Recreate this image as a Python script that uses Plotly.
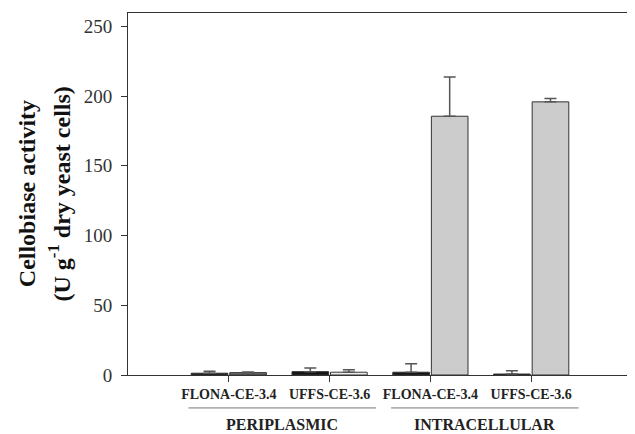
import plotly.graph_objects as go

groups = ["FLONA-CE-3.4", "UFFS-CE-3.6", "FLONA-CE-3.4 ", "UFFS-CE-3.6 "]
tick_labels = ["FLONA-CE-3.4", "UFFS-CE-3.6", "FLONA-CE-3.4", "UFFS-CE-3.6"]
fractions = ["PERIPLASMIC", "INTRACELLULAR"]

series_a = [1.3, 2.4, 2.0, 0.7]
series_a_err = [1.3, 2.7, 6.0, 2.3]
series_a_colors = ["#141414", "#141414", "#141414", "#141414"]

series_b = [1.7, 2.0, 185.5, 195.8]
series_b_err = [0.4, 1.8, 28.2, 2.4]
series_b_colors = ["#6a6a6a", "#ececec", "#cccccc", "#cccccc"]

x = list(range(len(groups)))

fig = go.Figure()
fig.add_trace(go.Bar(
    x=x, y=series_a,
    marker=dict(color=series_a_colors, line=dict(color="#333333", width=1)),
    error_y=dict(type="data", array=series_a_err, symmetric=False,
                 arrayminus=[0]*4, color="#555555", thickness=1.5, width=6),
    showlegend=False,
))
fig.add_trace(go.Bar(
    x=x, y=series_b,
    marker=dict(color=series_b_colors, line=dict(color="#333333", width=1)),
    error_y=dict(type="data", array=series_b_err, symmetric=False,
                 arrayminus=[0]*4, color="#555555", thickness=1.5, width=6),
    showlegend=False,
))

serif = "Liberation Serif, Times New Roman, serif"

# bracket lines under tick labels and group labels
spans = [(-0.4, 1.46), (1.61, 3.47)]
for (x0, x1), name in zip(spans, fractions):
    fig.add_shape(type="line", xref="x", yref="paper", x0=x0, x1=x1,
                  y0=-0.091, y1=-0.091, line=dict(color="#777777", width=1))
    fig.add_annotation(xref="x", yref="paper", x=(x0 + x1) / 2, y=-0.138,
                       text="<b>%s</b>" % name, showarrow=False,
                       font=dict(family=serif, size=16, color="#222222"),
                       yanchor="middle")

# y-axis title lines
fig.add_annotation(xref="paper", yref="paper", x=-0.2, y=0.5, xanchor="center",
                   yanchor="middle", text="<b>Cellobiase activity</b>", textangle=-90,
                   showarrow=False, font=dict(family=serif, size=24, color="#111111"))
fig.add_annotation(xref="paper", yref="paper", x=-0.136, y=0.5, xanchor="center",
                   yanchor="middle", text="<b>(U g<sup>-1</sup> dry yeast cells)</b>",
                   textangle=-90, showarrow=False,
                   font=dict(family=serif, size=24, color="#111111"))

fig.update_layout(
    width=627, height=426,
    margin=dict(l=120, r=3, t=5, b=59),
    paper_bgcolor="white", plot_bgcolor="white",
    barmode="group", bargap=0.235, bargroupgap=0.05,
    font=dict(family=serif, color="#333333"),
)
fig.update_xaxes(
    range=[-1, 4], tickmode="array", tickvals=x,
    ticktext=["<b>%s</b>" % t for t in tick_labels],
    tickfont=dict(family=serif, size=14, color="#222222"),
    ticks="outside", ticklen=6, tickcolor="#333333",
    showline=True, linecolor="#333333", linewidth=1, mirror=True,
    showgrid=False, zeroline=False,
)
fig.update_yaxes(
    range=[0, 259.5], tickvals=[0, 50, 100, 150, 200, 250],
    tickfont=dict(family=serif, size=19, color="#333333"),
    ticks="outside", ticklen=6, tickcolor="#333333", ticklabelstandoff=5,
    showline=True, linecolor="#333333", linewidth=1, mirror=True,
    showgrid=False, zeroline=False,
)

fig.write_html("out.html")
